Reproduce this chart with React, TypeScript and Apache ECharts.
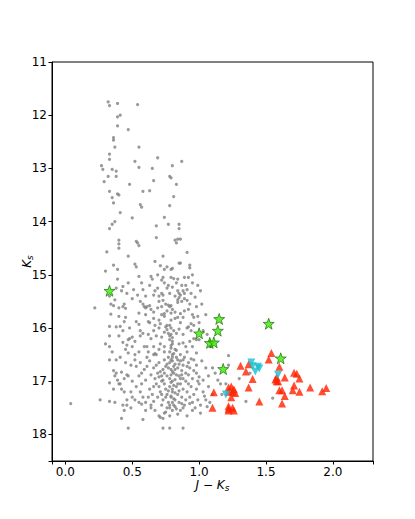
import React, { useEffect, useRef } from 'react';
import * as echarts from 'echarts';

const grayPoints: [number, number][] = [
  [0.32,11.75],[0.33,11.82],[0.39,11.78],[0.54,11.8],[0.39,12.03],[0.41,12.0],[0.39,12.2],[0.47,12.27],[0.36,12.42],[0.36,12.47],[0.37,12.6],[0.55,12.6],[0.33,12.73],[0.33,12.83],[0.52,12.87],[0.69,12.8],[0.87,12.87],[0.27,12.95],[0.28,13.02],[0.35,13.02],[0.38,13.05],[0.55,12.98],[0.65,13.0],[0.80,12.95],[0.29,13.25],[0.32,13.15],[0.38,13.15],[0.48,13.3],[0.66,13.23],[0.78,13.15],[0.79,13.18],[0.83,13.3],
  [0.33,13.43],[0.35,13.55],[0.39,13.48],[0.40,13.5],[0.58,13.43],[0.63,13.42],[0.81,13.53],[0.36,13.65],[0.56,13.68],[0.57,13.73],[0.78,13.7],[0.41,13.83],[0.50,13.93],[0.33,14.13],[0.37,14.0],[0.35,14.05],[0.74,13.92],[0.68,14.08],[0.77,14.05],[0.85,14.05],[0.85,14.13],
  [0.40,14.35],[0.40,14.42],[0.40,14.5],[0.53,14.37],[0.54,14.4],[0.55,14.45],[0.68,14.3],[0.82,14.35],[0.83,14.4],[0.84,14.33],[0.86,14.33],[0.31,14.57],[0.47,14.65],[0.91,14.58],
  [0.36,14.82],[0.30,14.93],[0.39,14.9],[0.52,14.8],[0.53,14.85],[0.67,14.75],[0.71,14.83],[0.73,14.65],[0.74,14.9],[0.79,14.9],[0.80,14.88],[0.85,14.78],[0.86,14.78],[0.93,14.82],[0.93,14.87],[0.76,14.85],
  [0.39,15.08],[0.43,15.22],[0.55,15.03],[0.57,15.15],[0.64,15.03],[0.65,15.08],[0.69,15.0],[0.72,15.1],[0.73,15.05],[0.79,15.05],[0.81,15.07],[0.77,15.2],[0.84,15.08],[0.89,15.05],[0.92,15.05],[0.95,15.0],[0.95,15.15],[0.90,15.2],[0.76,15.25],[0.80,15.23],[0.84,15.3],[0.85,15.35],[0.88,15.3],[0.99,15.2],[0.58,15.28],[0.67,15.3],[0.72,15.35],[0.66,15.38],[0.70,15.4],[0.54,15.38],[0.73,15.38],[0.82,15.4],[0.86,15.38],[0.89,15.35],[0.94,15.35],[1.01,15.3],[0.33,15.4],[0.34,15.55],[0.37,15.47],
  [0.34,15.74],[0.36,15.58],[0.40,15.62],[0.43,15.6],[0.44,15.55],[0.45,15.63],[0.58,15.55],[0.59,15.6],[0.60,15.62],[0.61,15.6],[0.64,15.65],[0.70,15.5],[0.73,15.48],[0.75,15.55],[0.77,15.57],[0.78,15.6],[0.79,15.58],[0.84,15.52],[0.84,15.47],[0.85,15.43],[0.87,15.5],[0.89,15.45],[0.91,15.48],[0.93,15.55],[0.22,15.62],[0.40,15.78],[0.45,15.8],[0.55,15.72],[0.66,15.7],[0.72,15.75],[0.74,15.73],[0.76,15.68],[0.79,15.72],[0.80,15.65],[0.82,15.7],[0.86,15.73],[0.89,15.68],[0.92,15.65],[0.95,15.75],[0.96,15.8],[0.99,15.78],[0.66,15.82],[0.70,15.85],[0.74,15.78],[0.79,15.85],[0.82,15.82],[0.84,15.8],[0.88,15.8],[0.62,15.88],[0.63,15.9],[0.53,15.88],[0.55,15.93],[0.44,15.88],[0.94,15.92],[0.96,15.95],[0.86,15.9],
  [0.33,15.97],[0.38,15.98],[0.41,15.97],[0.43,16.05],[0.48,16.0],[0.40,16.15],[0.33,16.15],[0.30,16.3],[0.33,16.35],[0.43,16.27],[0.46,16.32],[0.47,16.22],[0.48,16.2],[0.50,16.17],[0.56,16.05],[0.58,16.1],[0.59,16.35],[0.61,16.35],[0.64,16.2],[0.68,16.15],[0.72,16.17],[0.74,16.08],[0.75,15.98],[0.76,15.95],[0.78,15.95],[0.79,16.0],[0.76,16.03],[0.77,16.1],[0.78,16.15],[0.79,16.12],[0.80,16.18],[0.81,16.05],[0.83,16.1],[0.85,16.02],[0.88,16.12],[0.91,16.0],[0.92,15.98],[0.94,16.05],[0.96,16.2],[0.98,16.22],[1.00,16.22],[0.93,16.25],[0.71,16.3],[0.74,16.35],[0.79,16.33],[0.80,16.25],[0.82,16.4],[0.85,16.3],[0.88,16.28],[0.90,16.35],[0.95,16.35],[1.06,16.12],[1.08,16.35],[0.35,16.45],[0.47,16.47],[0.52,16.5],[0.66,16.5],[0.67,16.48],[0.74,16.45],[0.78,16.45],[0.80,16.5],[0.83,16.42],[0.86,16.5],[0.91,16.45],[0.98,16.47],[1.22,16.52],
  [0.33,16.6],[0.36,16.8],[0.38,16.85],[0.42,16.83],[0.39,16.98],[0.44,16.95],[0.46,16.88],[0.49,16.7],[0.52,16.6],[0.56,16.65],[0.57,16.85],[0.61,16.72],[0.63,16.62],[0.64,16.88],[0.66,16.75],[0.68,16.7],[0.70,16.65],[0.71,16.82],[0.72,16.9],[0.74,16.6],[0.75,16.72],[0.76,16.9],[0.77,16.55],[0.78,16.65],[0.79,16.78],[0.80,16.62],[0.81,16.72],[0.81,16.85],[0.82,16.68],[0.83,16.55],[0.84,16.75],[0.85,16.9],[0.86,16.62],[0.87,16.8],[0.88,16.7],[0.89,16.55],[0.90,16.85],[0.92,16.65],[0.93,16.75],[0.94,16.58],[0.96,16.8],[0.98,16.7],[1.00,16.92],[1.02,16.62],[1.05,16.75],[1.07,16.9],[1.10,16.75],[1.12,16.85],[1.14,16.98],[0.60,16.98],[0.67,16.95],[0.73,16.98],[0.78,16.95],[0.82,16.97],[0.88,16.95],[0.95,16.95],[1.22,16.7],[1.30,16.95],[1.38,16.85],[0.76,16.68],[0.79,16.88],[0.84,16.6],[0.73,16.78],[0.91,16.72],[0.87,16.88],
  [0.33,17.03],[0.36,17.15],[0.41,17.05],[0.42,17.15],[0.44,17.2],[0.26,17.35],[0.33,17.38],[0.37,17.4],[0.43,17.45],[0.46,17.35],[0.49,17.5],[0.50,17.3],[0.52,17.35],[0.55,17.4],[0.57,17.43],[0.60,17.4],[0.57,17.05],[0.63,17.15],[0.65,17.25],[0.64,17.45],[0.68,17.05],[0.69,17.3],[0.70,17.1],[0.71,17.2],[0.72,17.45],[0.73,17.35],[0.74,17.05],[0.75,17.15],[0.76,17.25],[0.77,17.4],[0.78,17.1],[0.79,17.3],[0.80,17.0],[0.80,17.2],[0.81,17.45],[0.82,17.35],[0.83,17.1],[0.84,17.25],[0.85,17.4],[0.86,17.05],[0.87,17.3],[0.88,17.15],[0.89,17.45],[0.90,17.35],[0.91,17.2],[0.92,17.05],[0.93,17.3],[0.94,17.1],[0.95,17.4],[0.96,17.25],[0.98,17.15],[0.99,17.35],[1.00,17.05],[1.01,17.45],[1.03,17.2],[1.05,17.35],[1.07,17.1],[1.08,17.4],[1.10,17.25],[1.16,17.05],[1.17,17.25],[1.20,17.05],[1.25,17.2],[1.35,17.38],[1.55,17.32],[0.04,17.42],
  [0.42,17.7],[0.44,17.55],[0.46,17.45],[0.58,17.72],[0.64,17.5],[0.67,17.55],[0.70,17.65],[0.71,17.68],[0.73,17.7],[0.75,17.58],[0.76,17.5],[0.78,17.65],[0.80,17.55],[0.82,17.48],[0.84,17.62],[0.86,17.55],[0.88,17.5],[0.91,17.65],[0.95,17.55],[1.01,17.6],[1.06,17.48],[0.47,17.88],[0.73,17.88],[0.78,17.88],[0.88,17.88],[0.78,17.45],[0.74,17.6],
  [0.78,16.22],[0.80,16.3],[0.79,16.38],[0.81,16.48],[0.80,16.55],[0.79,16.6],[0.82,16.78],[0.80,16.82],[0.83,16.88],[0.79,17.02],[0.81,17.08],[0.80,17.15],[0.82,17.22],[0.79,17.28],[0.81,17.33],[0.80,17.4],[0.78,17.5],[0.83,17.52],[0.77,16.75],[0.85,16.68],[0.86,16.95],[0.74,16.85],[0.72,17.0],[0.70,16.92],[0.75,17.3],[0.77,17.18],[0.85,17.18],[0.87,17.42],[0.84,17.05],[0.72,17.25],[0.69,16.85],[0.90,17.0],[0.92,16.88],[0.93,17.42],[0.66,17.1],[0.62,17.3],[0.60,17.55],[0.66,17.38],[0.97,17.5],[0.99,17.0],[1.03,16.98],[1.04,17.28],[0.88,16.6],[0.96,16.6],[0.98,16.85],
  [0.45,16.65],[0.47,16.9],[0.50,17.0],[0.53,17.1],[0.55,16.9],[0.56,17.2],[0.59,16.78],[0.53,16.72],[0.49,17.2],[0.58,17.3],[0.40,17.05],[0.37,16.9],[0.62,16.45],[0.66,16.35],[0.68,16.5],[0.70,16.4],[0.61,16.55],[0.55,16.45],[0.50,16.35],[0.45,16.4],[0.41,16.55],[0.38,16.6],[0.52,16.25],[0.56,16.15],[0.62,16.12],[0.66,16.05],[0.70,16.0],[0.71,15.92],[0.67,15.95],[0.60,15.75],[0.63,15.58],[0.69,15.62],[0.72,15.6],[0.56,15.5],[0.50,15.45],[0.46,15.35],[0.42,15.3],[0.38,15.25],[0.47,15.15],[0.51,15.28],[0.60,15.4],[0.63,15.2],[0.69,15.25],[0.74,15.15],[0.78,15.35],[0.83,15.15],[0.87,15.2],[0.91,15.28],[0.97,15.42],[0.98,15.6],[1.02,15.55],[1.00,15.9],[1.03,16.05],[1.05,15.75]
];

const redTriangles: [number, number][] = [
  [1.54,16.47],[1.52,16.59],[1.31,16.71],[1.37,16.68],[1.35,16.82],[1.60,16.73],[1.40,16.96],[1.57,16.97],[1.58,16.93],[1.59,17.0],[1.64,16.93],[1.71,16.84],[1.73,16.86],[1.75,16.95],[1.71,17.08],[1.37,17.12],[1.22,17.12],[1.24,17.1],[1.26,17.15],[1.25,17.2],[1.22,17.2],[1.27,17.22],[1.11,17.21],[1.60,17.17],[1.62,17.17],[1.70,17.17],[1.75,17.2],[1.83,17.12],[1.92,17.19],[1.95,17.13],[1.64,17.28],[1.24,17.3],[1.22,17.47],[1.25,17.5],[1.10,17.5],[1.22,17.55],[1.26,17.55],[1.45,17.38],[1.62,17.42],[1.22,17.52],[1.58,17.0]
];

const cyanTriangles: [number, number][] = [
  [1.39,16.65],[1.40,16.72],[1.42,16.82],[1.44,16.73],[1.45,16.76],[1.59,16.88],[1.20,17.25]
];

const greenStars: [number, number][] = [
  [0.33,15.3],[1.15,15.83],[1.14,16.05],[1.00,16.1],[1.08,16.28],[1.11,16.27],[1.52,15.92],[1.61,16.57],[1.18,16.77]
];

const xTicks = [0, 0.5, 1.0, 1.5, 2.0];
const yTicks = [11, 12, 13, 14, 15, 16, 17, 18];

const STAR = 'path://M0,-10 L2.35,-3.24 L9.51,-3.09 L3.8,1.24 L5.88,8.09 L0,4 L-5.88,8.09 L-3.8,1.24 L-9.51,-3.09 L-2.35,-3.24 Z';
const FONT = 'DejaVu Sans';

export default function App() {
  const ref = useRef<HTMLDivElement>(null);
  useEffect(() => {
    const chart = echarts.init(ref.current!, null, { renderer: 'svg' });
    const isTick = (arr: number[], v: number) => arr.some((t) => Math.abs(t - v) < 1e-6);
    chart.setOption({
      animation: false,
      backgroundColor: '#ffffff',
      grid: { left: 52, top: 62, width: 321, height: 399, show: true, borderColor: '#000', borderWidth: 1, backgroundColor: 'transparent' },
      xAxis: {
        type: 'value', min: -0.1, max: 2.3, splitNumber: 5,
        axisLine: { show: true, onZero: false, lineStyle: { color: '#000', width: 1 } },
        axisTick: { show: true, length: 3.5, lineStyle: { color: '#000' } },
        splitLine: { show: false },
        axisLabel: { color: '#000', fontSize: 12, fontFamily: FONT, margin: 5,
          formatter: (v: number) => (isTick(xTicks, v) ? v.toFixed(1) : '') },
        name: '{i|J} − {i|K}{s|s}', nameLocation: 'middle', nameGap: 16, nameMoveOverlap: false,
        nameTextStyle: { fontSize: 12, fontFamily: FONT, color: '#000',
          rich: { i: { fontStyle: 'italic', fontSize: 12, fontFamily: FONT, color: '#000' },
                  s: { fontStyle: 'italic', fontSize: 9, fontFamily: FONT, color: '#000', padding: [6, 0, 0, 0] } } },
      },
      yAxis: {
        type: 'value', min: 11, max: 18.5, interval: 1, inverse: true,
        axisLine: { show: true, onZero: false, lineStyle: { color: '#000', width: 1 } },
        axisTick: { show: true, length: 3.5, lineStyle: { color: '#000' } },
        splitLine: { show: false },
        axisLabel: { color: '#000', fontSize: 12, fontFamily: FONT, margin: 5,
          formatter: (v: number) => (isTick(yTicks, v) ? String(v) : '') },
        name: '{i|K}{s|s}', nameLocation: 'middle', nameGap: 18, nameRotate: 90, nameMoveOverlap: false,
        nameTextStyle: { fontSize: 12, fontFamily: FONT, color: '#000',
          rich: { i: { fontStyle: 'italic', fontSize: 12, fontFamily: FONT, color: '#000' },
                  s: { fontStyle: 'italic', fontSize: 9, fontFamily: FONT, color: '#000', padding: [6, 0, 0, 0] } } },
      },
      series: [
        { type: 'scatter', data: grayPoints, symbol: 'circle', symbolSize: 3.2,
          itemStyle: { color: '#808080' }, silent: true },
        { type: 'scatter', data: redTriangles, symbol: 'triangle', symbolSize: 8,
          itemStyle: { color: '#ff2200' }, silent: true },
        { type: 'scatter', data: cyanTriangles, symbol: 'triangle', symbolRotate: 180, symbolSize: 8,
          itemStyle: { color: '#17becf' }, silent: true },
        { type: 'scatter', data: greenStars, symbol: STAR, symbolSize: 11,
          itemStyle: { color: '#33ee00', borderColor: '#1a5c00', borderWidth: 0.8 }, silent: true },
      ],
    });
    return () => chart.dispose();
  }, []);
  return <div ref={ref} style={{ position: 'fixed', left: 0, top: 0, width: 415, height: 519, background: '#fff' }} />;
}
